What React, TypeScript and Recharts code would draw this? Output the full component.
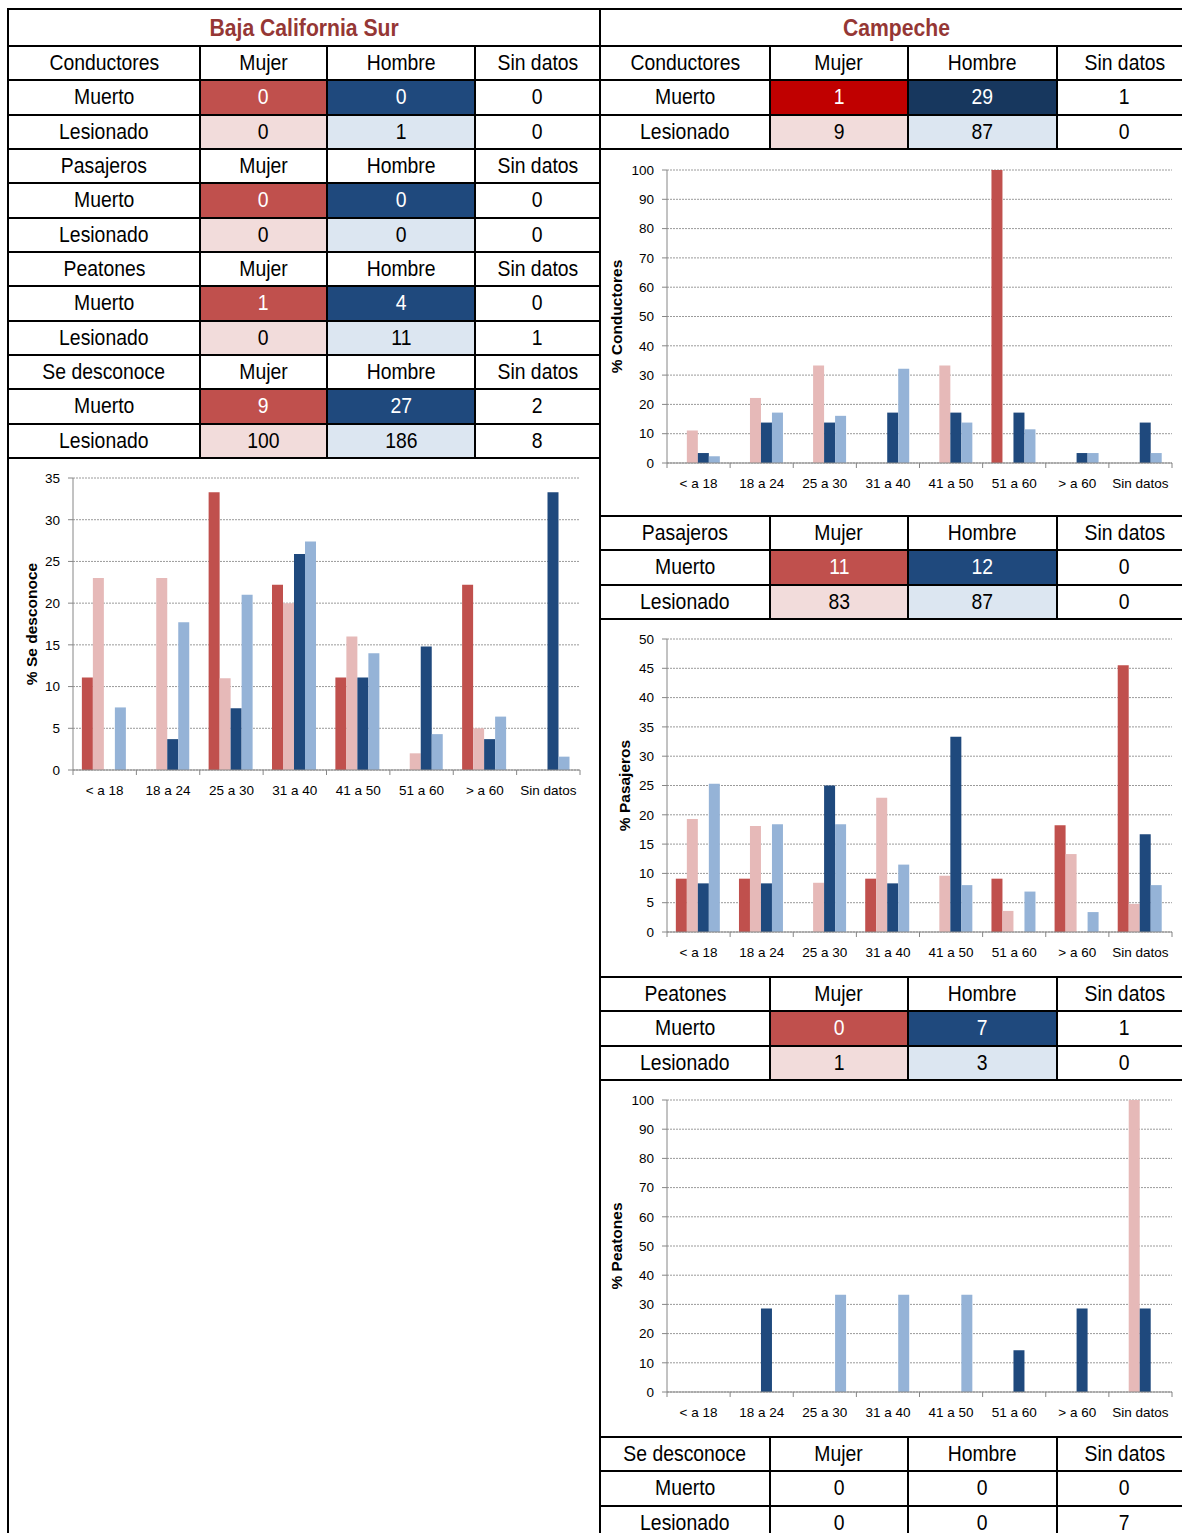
import React from "react"
import { BarChart, Bar, XAxis, YAxis, CartesianGrid } from "recharts"

// ── Data ──────────────────────────────────────────────────────────────
const AGES = ["< a 18", "18 a 24", "25 a 30", "31 a 40", "41 a 50", "51 a 60", "> a 60", "Sin datos"]
const HEAD_COLS = ["Mujer", "Hombre", "Sin datos"]

// Baja California Sur — tablas (Mujer, Hombre, Sin datos)
const bcsConductoresMuerto = [0, 0, 0]
const bcsConductoresLesionado = [0, 1, 0]
const bcsPasajerosMuerto = [0, 0, 0]
const bcsPasajerosLesionado = [0, 0, 0]
const bcsPeatonesMuerto = [1, 4, 0]
const bcsPeatonesLesionado = [0, 11, 1]
const bcsDesconoceMuerto = [9, 27, 2]
const bcsDesconoceLesionado = [100, 186, 8]

// Campeche — tablas
const camConductoresMuerto = [1, 29, 1]
const camConductoresLesionado = [9, 87, 0]
const camPasajerosMuerto = [11, 12, 0]
const camPasajerosLesionado = [83, 87, 0]
const camPeatonesMuerto = [0, 7, 1]
const camPeatonesLesionado = [1, 3, 0]
const camDesconoceMuerto = [0, 0, 0]
const camDesconoceLesionado = [0, 0, 7]

// Baja California Sur — % Se desconoce, por edad
const bcsDesMujerMuerto = [11.1, 0, 33.3, 22.2, 11.1, 0, 22.2, 0]
const bcsDesMujerLesionado = [23, 23, 11, 20, 16, 2, 5, 0]
const bcsDesHombreMuerto = [0, 3.7, 7.4, 25.9, 11.1, 14.8, 3.7, 33.3]
const bcsDesHombreLesionado = [7.5, 17.7, 21, 27.4, 14, 4.3, 6.4, 1.6]

// Campeche — % Conductores
const camConMujerMuerto = [0, 0, 0, 0, 0, 100, 0, 0]
const camConMujerLesionado = [11.1, 22.2, 33.3, 0, 33.3, 0, 0, 0]
const camConHombreMuerto = [3.4, 13.8, 13.8, 17.2, 17.2, 17.2, 3.4, 13.8]
const camConHombreLesionado = [2.3, 17.2, 16.1, 32.2, 13.8, 11.5, 3.4, 3.4]

// Campeche — % Pasajeros
const camPasMujerMuerto = [9.1, 9.1, 0, 9.1, 0, 9.1, 18.2, 45.5]
const camPasMujerLesionado = [19.3, 18.1, 8.4, 22.9, 9.6, 3.6, 13.3, 4.8]
const camPasHombreMuerto = [8.3, 8.3, 25, 8.3, 33.3, 0, 0, 16.7]
const camPasHombreLesionado = [25.3, 18.4, 18.4, 11.5, 8, 6.9, 3.4, 8]

// Campeche — % Peatones
const camPeaMujerMuerto = [0, 0, 0, 0, 0, 0, 0, 0]
const camPeaMujerLesionado = [0, 0, 0, 0, 0, 0, 0, 100]
const camPeaHombreMuerto = [0, 28.6, 0, 0, 0, 14.3, 28.6, 28.6]
const camPeaHombreLesionado = [0, 0, 33.3, 33.3, 33.3, 0, 0, 0]

const TICKS_35 = [0, 5, 10, 15, 20, 25, 30, 35]
const TICKS_50 = [0, 5, 10, 15, 20, 25, 30, 35, 40, 45, 50]
const TICKS_100 = [0, 10, 20, 30, 40, 50, 60, 70, 80, 90, 100]

// ── Styles ────────────────────────────────────────────────────────────
const FONT = "'Liberation Sans', Arial, sans-serif"
const AXIS = "#868686"
const C_MM = "#C0504D"
const C_ML = "#E6B9B8"
const C_HM = "#1F497D"
const C_HL = "#95B3D7"
const CELL_ML = "#F2DCDB"
const CELL_HL = "#DCE6F1"
const ROW = 34.33

function buildRows(mm: number[], ml: number[], hm: number[], hl: number[]) {
  return AGES.map((age, i) => ({ age, mm: mm[i], ml: ml[i], hm: hm[i], hl: hl[i] }))
}

// ── Table pieces ──────────────────────────────────────────────────────
// el original usa una letra estrecha: se imita con scaleX
function Cell({ x1, x2, y1, y2, text, bg, color, bold, size, squeeze }: any) {
  return (
    <div
      style={{
        position: "absolute",
        left: x1 - 1,
        top: y1 - 1,
        width: x2 - x1 + 2,
        height: y2 - y1 + 2,
        boxSizing: "border-box",
        border: "2px solid #000",
        background: bg || "#fff",
        color: color || "#000",
        fontWeight: bold ? "bold" : "normal",
        fontSize: size || 22,
        display: "flex",
        alignItems: "center",
        justifyContent: "center",
        whiteSpace: "nowrap",
      }}
    >
      <span style={{ display: "inline-block", lineHeight: "18px", transform: `scaleX(${squeeze || 0.88})` }}>{text}</span>
    </div>
  )
}

function Group({ xs, y, title, muerto, lesionado, colors }: any) {
  const rows = [
    { label: title, vals: HEAD_COLS, bgs: [null, null, null], fgs: [null, null, null] },
    { label: "Muerto", vals: muerto, bgs: colors ? [colors[0], colors[1], null] : [null, null, null], fgs: colors ? ["#fff", "#fff", null] : [null, null, null] },
    { label: "Lesionado", vals: lesionado, bgs: colors ? [CELL_ML, CELL_HL, null] : [null, null, null], fgs: [null, null, null] },
  ]
  return (
    <>
      {rows.map((r, ri) => {
        const y1 = y + ri * ROW
        const y2 = y + (ri + 1) * ROW
        return (
          <React.Fragment key={ri}>
            <Cell x1={xs[0]} x2={xs[1]} y1={y1} y2={y2} text={r.label} />
            {r.vals.map((v: any, ci: number) => (
              <Cell key={ci} x1={xs[ci + 1]} x2={xs[ci + 2]} y1={y1} y2={y2} text={String(v)} bg={r.bgs[ci]} color={r.fgs[ci]} />
            ))}
          </React.Fragment>
        )
      })}
    </>
  )
}

// ── Chart ─────────────────────────────────────────────────────────────
function AgeTick(props: any) {
  const { x, y, payload, index, band } = props
  const left = x - band / 2
  return (
    <g>
      <line x1={left} x2={left} y1={y} y2={y + 5} stroke={AXIS} />
      {index === AGES.length - 1 && <line x1={left + band} x2={left + band} y1={y} y2={y + 5} stroke={AXIS} />}
      <text x={x} y={y + 25} textAnchor="middle" fontSize={13.5} fill="#000" fontFamily={FONT}>
        {payload.value}
      </text>
    </g>
  )
}

function AgeChart({ left, top, width, height, plot, data, max, ticks, label, labelDx }: any) {
  // plot = [x1, x2, y1, y2] en coordenadas de página
  const yAxisW = plot[0] - left
  const mRight = left + width - plot[1]
  const mTop = plot[2] - top
  const mBottom = top + height - plot[3] - 30
  const band = (plot[1] - plot[0]) / AGES.length
  return (
    <div style={{ position: "absolute", left, top, width, height }}>
      <BarChart
        width={width}
        height={height}
        data={data}
        margin={{ top: mTop, right: mRight, bottom: mBottom, left: 0 }}
        barCategoryGap="14%"
        barGap={0}
      >
        <CartesianGrid vertical={false} stroke="#9a9a9a" strokeDasharray="2 1" />
        <XAxis
          dataKey="age"
          height={30}
          interval={0}
          axisLine={{ stroke: AXIS }}
          tickLine={false}
          tickSize={0}
          tickMargin={0}
          tick={(p: any) => <AgeTick {...p} band={band} />}
        />
        <YAxis
          width={yAxisW}
          domain={[0, max]}
          ticks={ticks}
          interval={0}
          allowDataOverflow
          axisLine={{ stroke: AXIS }}
          tickLine={{ stroke: AXIS }}
          tickSize={5}
          tickMargin={8}
          tick={{ fontSize: 13.5, fill: "#000", fontFamily: FONT }}
          label={{
            value: label,
            angle: -90,
            position: "center",
            dx: labelDx,
            style: { fontWeight: "bold", fontSize: 15.5, fill: "#000", fontFamily: FONT, textAnchor: "middle" },
          }}
        />
        <Bar dataKey="mm" fill={C_MM} isAnimationActive={false} />
        <Bar dataKey="ml" fill={C_ML} isAnimationActive={false} />
        <Bar dataKey="hm" fill={C_HM} isAnimationActive={false} />
        <Bar dataKey="hl" fill={C_HL} isAnimationActive={false} />
      </BarChart>
    </div>
  )
}

// ── App ───────────────────────────────────────────────────────────────
export default function App() {
  const LX = [8, 200, 327, 475, 600]
  const RX = [600, 770, 908, 1057, 1192]
  const STD = [C_MM, C_HM]

  return (
    <div style={{ position: "absolute", left: 0, top: 0, width: 1182, height: 1533, overflow: "hidden", background: "#fff", fontFamily: FONT }}>
      {/* marco */}
      <div style={{ position: "absolute", left: 7, top: 9, width: 2, height: 1530, background: "#000" }} />
      <div style={{ position: "absolute", left: 599, top: 9, width: 2, height: 1530, background: "#000" }} />

      {/* Baja California Sur */}
      <Cell x1={8} x2={600} y1={9} y2={46} text="Baja California Sur" bold color="#953735" size={23.5} squeeze={0.9} />
      <Group xs={LX} y={46} title="Conductores" muerto={bcsConductoresMuerto} lesionado={bcsConductoresLesionado} colors={STD} />
      <Group xs={LX} y={46 + 3 * ROW} title="Pasajeros" muerto={bcsPasajerosMuerto} lesionado={bcsPasajerosLesionado} colors={STD} />
      <Group xs={LX} y={46 + 6 * ROW} title="Peatones" muerto={bcsPeatonesMuerto} lesionado={bcsPeatonesLesionado} colors={STD} />
      <Group xs={LX} y={46 + 9 * ROW} title="Se desconoce" muerto={bcsDesconoceMuerto} lesionado={bcsDesconoceLesionado} colors={STD} />
      <AgeChart
        left={8} top={460} width={592} height={350}
        plot={[73, 580, 478, 770]}
        data={buildRows(bcsDesMujerMuerto, bcsDesMujerLesionado, bcsDesHombreMuerto, bcsDesHombreLesionado)}
        max={35} ticks={TICKS_35} label="% Se desconoce" labelDx={-9}
      />

      {/* Campeche */}
      <Cell x1={600} x2={1192} y1={9} y2={46} text="Campeche" bold color="#953735" size={23.5} squeeze={0.9} />
      <Group xs={RX} y={46} title="Conductores" muerto={camConductoresMuerto} lesionado={camConductoresLesionado} colors={["#C00000", "#17375E"]} />
      <AgeChart
        left={601} top={151} width={581} height={363}
        plot={[667, 1172, 170, 463]}
        data={buildRows(camConMujerMuerto, camConMujerLesionado, camConHombreMuerto, camConHombreLesionado)}
        max={100} ticks={TICKS_100} label="% Conductores" labelDx={-18}
      />
      <Group xs={RX} y={516} title="Pasajeros" muerto={camPasajerosMuerto} lesionado={camPasajerosLesionado} colors={STD} />
      <AgeChart
        left={601} top={621} width={581} height={354}
        plot={[667, 1172, 639, 932]}
        data={buildRows(camPasMujerMuerto, camPasMujerLesionado, camPasHombreMuerto, camPasHombreLesionado)}
        max={50} ticks={TICKS_50} label="% Pasajeros" labelDx={-10}
      />
      <Group xs={RX} y={977} title="Peatones" muerto={camPeatonesMuerto} lesionado={camPeatonesLesionado} colors={STD} />
      <AgeChart
        left={601} top={1082} width={581} height={353}
        plot={[667, 1172, 1100, 1392]}
        data={buildRows(camPeaMujerMuerto, camPeaMujerLesionado, camPeaHombreMuerto, camPeaHombreLesionado)}
        max={100} ticks={TICKS_100} label="% Peatones" labelDx={-18}
      />
      <Group xs={RX} y={1437} title="Se desconoce" muerto={camDesconoceMuerto} lesionado={camDesconoceLesionado} colors={null} />
    </div>
  )
}
